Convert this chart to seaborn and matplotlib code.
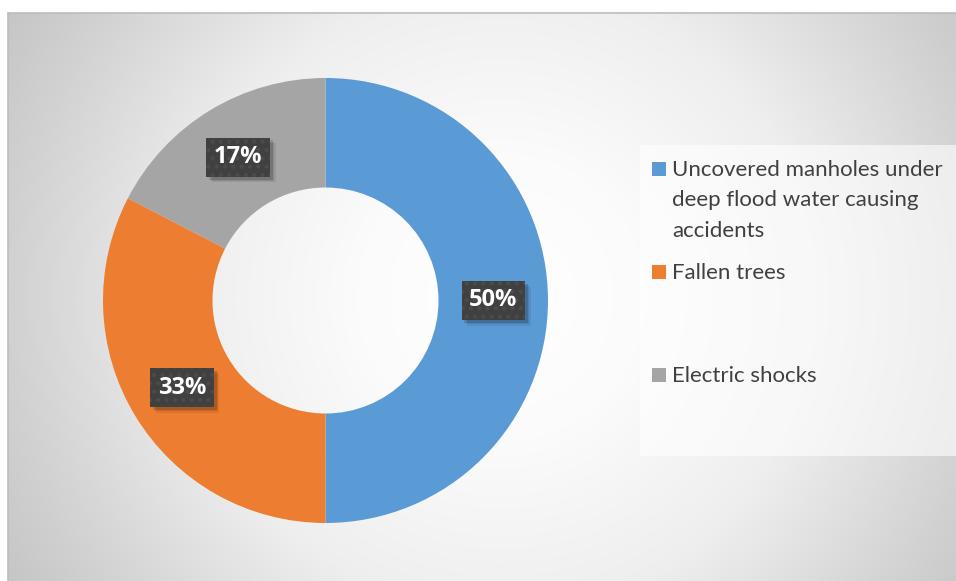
import numpy as np
import matplotlib
matplotlib.use("Agg")
import matplotlib.pyplot as plt
import matplotlib.patches as mpatches
import matplotlib.patheffects as pe
import seaborn as sns

# Causes of incidents during flooding (share of reported cases, %)
categories = [
    "Uncovered manholes under\ndeep flood water causing\naccidents",
    "Fallen trees",
    "Electric shocks",
]
shares = [50.0, 32.6, 17.4]
colors = sns.color_palette(["#5B9BD5", "#ED7D31", "#A5A5A5"])

sns.set_theme(style="white")
plt.rcParams["font.family"] = ["Lato", "DejaVu Sans"]
plt.rcParams["hatch.linewidth"] = 1.8


class BoxShadow(pe.AbstractPathEffect):
    """Plain, semi-transparent copy of a patch drawn at an offset (no hatch)."""

    def __init__(self, offset, alpha):
        super().__init__(offset)
        self.alpha = alpha

    def draw_path(self, renderer, gc, tpath, affine, rgbFace=None):
        gc0 = renderer.new_gc()
        gc0.copy_properties(gc)
        gc0.set_hatch(None)
        gc0.set_linewidth(0)
        gc0.set_alpha(self.alpha)
        renderer.draw_path(gc0, tpath, affine + self._offset_transform(renderer), (0, 0, 0))
        gc0.restore()


W, H = 956, 581
fig = plt.figure(figsize=(W / 100, H / 100), dpi=100, facecolor="white")

# Chart area with a soft radial gradient
x0, y0 = 8, 13
bg = fig.add_axes([x0 / W, 0, (W - x0) / W, (H - y0) / H])
gw, gh = W - x0, H - y0
yy, xx = np.mgrid[0:gh, 0:gw]
cx, cy = gw * 0.52, gh * 0.50
d = np.hypot(xx - cx, yy - cy)
d = d / d.max()
stops_d = [0.0, 0.25, 0.55, 0.85, 1.0]
stops_v = [1.0, 0.985, 0.935, 0.825, 0.775]
v = np.interp(d, stops_d, stops_v)
bg.imshow(np.dstack([v, v, v]), aspect="auto", interpolation="bilinear")
bg.set_axis_off()
fig.add_artist(plt.Line2D([x0 / W, 1], [1 - y0 / H, 1 - y0 / H], color="#bcbcbc", lw=1.2))
fig.add_artist(plt.Line2D([x0 / W, x0 / W], [0, 1 - y0 / H], color="#bcbcbc", lw=1.2))

# Doughnut
R, r_in = 222.5, 113
cxp, cyp = 325.5, 300.5
half = 232
ax = fig.add_axes([(cxp - half) / W, (H - cyp - half) / H, 2 * half / W, 2 * half / H])
ax.set_facecolor("none")
wedges, _, autotexts = ax.pie(
    shares,
    colors=colors,
    startangle=90,
    counterclock=False,
    radius=1.0,
    wedgeprops=dict(width=(R - r_in) / R, linewidth=0),
    autopct="%1.0f%%",
    pctdistance=(R + r_in) / 2 / R,
)
ax.set_xlim(-half / R, half / R)
ax.set_ylim(-half / R, half / R)
ax.set_aspect("equal")
ax.set_axis_off()

for t in autotexts:
    t.set(color="white", fontsize=17, fontweight="bold",
          family=["Open Sans", "DejaVu Sans"], ha="center", va="center", zorder=4)
    t.set_bbox(dict(boxstyle="square,pad=0.32", facecolor="#404040",
                    edgecolor="#4b4b4b", linewidth=0, hatch=".."))
    t.get_bbox_patch().set_path_effects([
        BoxShadow((4, -4), 0.07),
        BoxShadow((3, -3), 0.10),
        BoxShadow((2, -2), 0.14),
        pe.Normal(),
    ])

# Legend panel
lx0, ly0, lx1, ly1 = 640, 145, 956, 456
fig.add_artist(mpatches.Rectangle((lx0 / W, 1 - ly1 / H), (lx1 - lx0) / W, (ly1 - ly0) / H,
                                  transform=fig.transFigure, facecolor="white",
                                  alpha=0.6, edgecolor="none"))
baselines = [176.5, 279, 382]
line_gap = 30
sq = 14
for label, col, base in zip(categories, colors, baselines):
    fig.add_artist(mpatches.Rectangle((652 / W, 1 - (base - 0.5) / H), sq / W, sq / H,
                                      transform=fig.transFigure, facecolor=col,
                                      edgecolor="none"))
    for i, line in enumerate(label.split("\n")):
        fig.text(672 / W, 1 - (base + i * line_gap) / H, line, fontsize=16,
                 color="#404040", ha="left", va="baseline")

fig.savefig("out.png", dpi=100, facecolor="white")
